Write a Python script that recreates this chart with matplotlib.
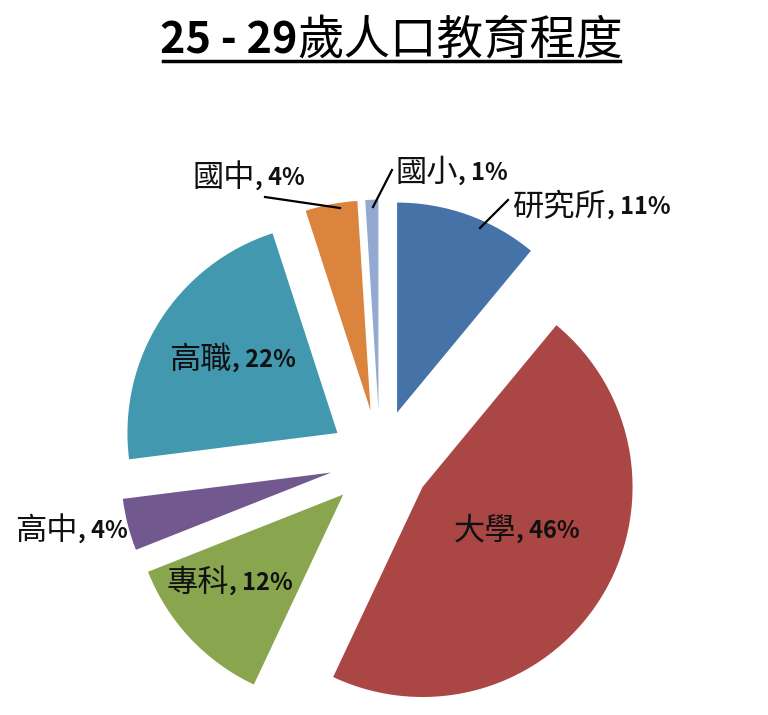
import matplotlib
matplotlib.use("Agg")
import matplotlib.pyplot as plt

plt.rcParams['font.family'] = ['Noto Sans CJK TC', 'DejaVu Sans']

title_num = "25 - 29"
title_txt = "歲人口教育程度"
categories = ["研究所", "大學", "專科", "高中", "高職", "國中", "國小"]
values = [11, 46, 12, 4, 22, 4, 1]
colors = ["#4572A7", "#AA4643", "#89A54E", "#71588F", "#4198AF", "#DB843D", "#93A9CF"]

W, H = 768, 715
R = 210.0
fig = plt.figure(figsize=(W / 100, H / 100), dpi=100)
ax = fig.add_axes([0, 0, 1, 1])
ax.set_xlim(0, W / R)
ax.set_ylim(0, H / R)
ax.set_aspect('equal')
ax.axis('off')


def P(px, py):
    return px / R, (H - py) / R


cx, cy = P(380, 460)
ax.pie(values, colors=colors, startangle=90, counterclock=False,
       explode=[0.24] * len(values), radius=1.0, center=(cx, cy),
       wedgeprops=dict(linewidth=0), frame=True)
ax.set_xlim(0, W / R)
ax.set_ylim(0, H / R)
ax.axis('off')

# label anchor (split point between name and percentage), in pixels
label_pos = {
    "研究所": (607, 207),
    "大學": (516, 531),
    "專科": (229, 583),
    "高中": (78, 531),
    "高職": (232, 360),
    "國中": (255, 178),
    "國小": (458, 173),
}
FS_NAME = 22.5
FS_PCT = 17
for name, v in zip(categories, values):
    px, py = label_pos[name]
    x, y = P(px, py)
    ax.text(x, y, name, ha='right', va='center', fontsize=FS_NAME, color='#111111')
    ax.text(x, y, f", {v}%", ha='left', va='center', fontsize=FS_PCT,
            fontweight='bold', color='#111111')

# leader lines
leaders = {
    "研究所": [(480, 228), (508, 200)],
    "國中": [(265, 197), (340, 208)],
    "國小": [(373, 207), (392, 170)],
}
for name, pts in leaders.items():
    xs, ys = zip(*[P(a, b) for a, b in pts])
    ax.plot(xs, ys, color='black', lw=1.6)

# title
tx, ty = P(297, 40)
ax.text(tx, ty, title_num, ha='right', va='center', fontsize=31, fontweight='bold')
ax.text(tx, ty, title_txt, ha='left', va='center', fontsize=33.5)
ux0, uy = P(163, 61)
ux1, _ = P(620, 61)
ax.plot([ux0, ux1], [uy, uy], color='black', lw=2.5)

fig.savefig("out.png", dpi=100)
